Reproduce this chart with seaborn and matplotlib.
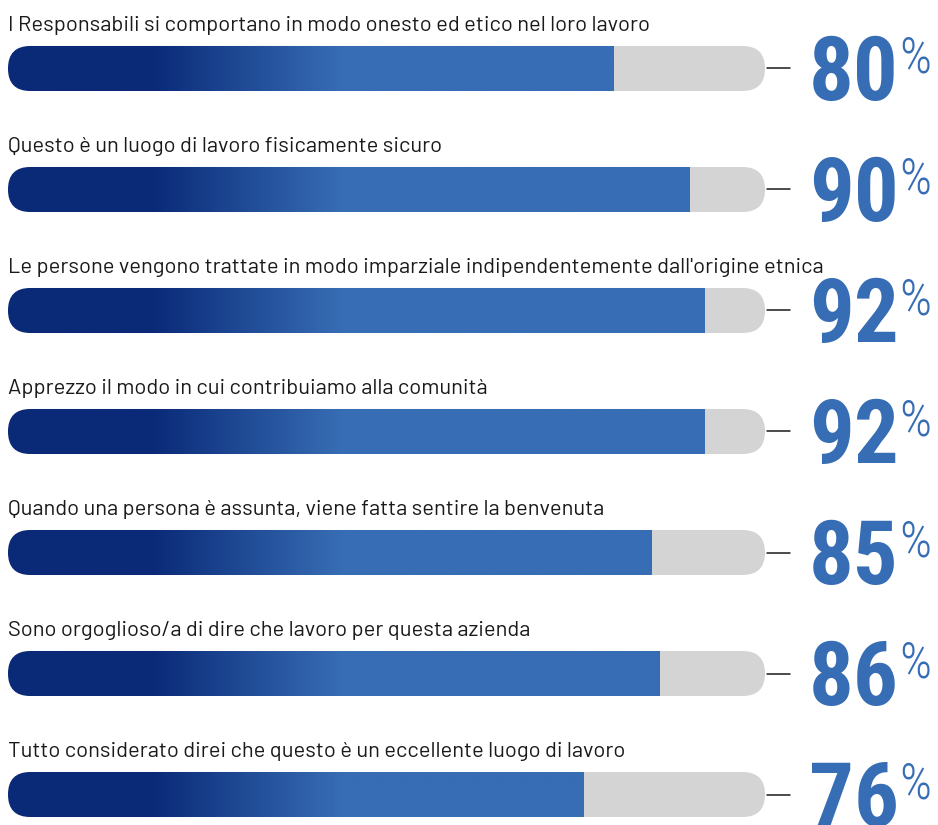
import matplotlib.pyplot as plt
import numpy as np
import pandas as pd
import seaborn as sns
from matplotlib.colors import LinearSegmentedColormap
from matplotlib.patches import FancyBboxPatch

# ─── Dati ───
domande = [
    'I Responsabili si comportano in modo onesto ed etico nel loro lavoro',
    'Questo è un luogo di lavoro fisicamente sicuro',
    "Le persone vengono trattate in modo imparziale indipendentemente dall'origine etnica",
    'Apprezzo il modo in cui contribuiamo alla comunità',
    'Quando una persona è assunta, viene fatta sentire la benvenuta',
    'Sono orgoglioso/a di dire che lavoro per questa azienda',
    'Tutto considerato direi che questo è un eccellente luogo di lavoro',
]
valori = [80, 90, 92, 92, 85, 86, 76]
totale = [100] * len(valori)

# ─── Stile ───
BLU_SCURO = '#0a2a78'
BLU = '#376db4'
GRIGIO = '#d4d4d4'
TESTO = '#1a1a1a'
BAR_H = 0.372
FONT_TESTO = ['Barlow', 'DejaVu Sans']
FONT_NUM = ['Roboto Condensed', 'DejaVu Sans']

sns.set_style('white')
plt.rcParams['font.family'] = FONT_TESTO

fig = plt.figure(figsize=(9.38, 8.25), dpi=100)
ax = fig.add_axes([0, 0, 1, 1])

df = pd.DataFrame({'domanda': domande, 'valore': valori, 'totale': totale})
sns.barplot(data=df, x='totale', y='domanda', color=GRIGIO, width=BAR_H, ax=ax)
sns.barplot(data=df, x='valore', y='domanda', color=BLU, width=BAR_H, ax=ax)

ax.set_xlim(-1.057, 122.85)
ax.set_ylim(6.252, -0.566)
ax.set_autoscale_on(False)
ax.axis('off')

# pixel per unità (per arrotondare le estremità in modo circolare)
p0 = ax.transData.transform((0, 0))
p1 = ax.transData.transform((1, 1))
px_x = abs(p1[0] - p0[0])
px_y = abs(p1[1] - p0[1])
aspect = px_x / px_y

cmap = LinearSegmentedColormap.from_list('blu', [BLU_SCURO, BLU])

n = len(valori)
barre = list(ax.patches)
tracce, riempimenti = barre[:n], barre[n:]

for i, (tr, fl) in enumerate(zip(tracce, riempimenti)):
    x, y, w, h = tr.get_x(), tr.get_y(), tr.get_width(), tr.get_height()
    r = (h * px_y / 2) / px_x * 0.999
    tr.remove()
    pista = FancyBboxPatch((x, y), w, h,
                           boxstyle=f'round,pad=0,rounding_size={r}',
                           mutation_aspect=aspect, fc=GRIGIO, ec='none', zorder=1)
    ax.add_patch(pista)

    # riempimento sfumato (blu scuro -> blu)
    fx, fw = fl.get_x(), fl.get_width()
    fl.remove()
    xs = np.linspace(fx, fx + fw, 600)
    t = np.clip((xs - 19) / (44 - 19), 0, 1)
    im = ax.imshow(t[np.newaxis, :], cmap=cmap, vmin=0, vmax=1, aspect='auto',
                   extent=(fx, fx + fw, y + h, y), interpolation='bilinear', zorder=2)
    im.set_clip_path(pista)

    # trattino e percentuale
    ax.plot([100.3, 103.3], [i, i], color=TESTO, lw=1.1, zorder=3)
    ax.text(105.8, i + 0.26, f'{valori[i]}', color=BLU, fontsize=64,
            fontweight='bold', family=FONT_NUM, ha='left', va='baseline')
    ax.text(117.7, i + 0.03, '%', color=BLU, fontsize=36, fontweight='light',
            family=FONT_NUM, ha='left', va='baseline')

    # domanda
    ax.text(0, i - 0.31, domande[i], color=TESTO, fontsize=15.8,
            ha='left', va='baseline')

fig.savefig('out.png', dpi=100)
